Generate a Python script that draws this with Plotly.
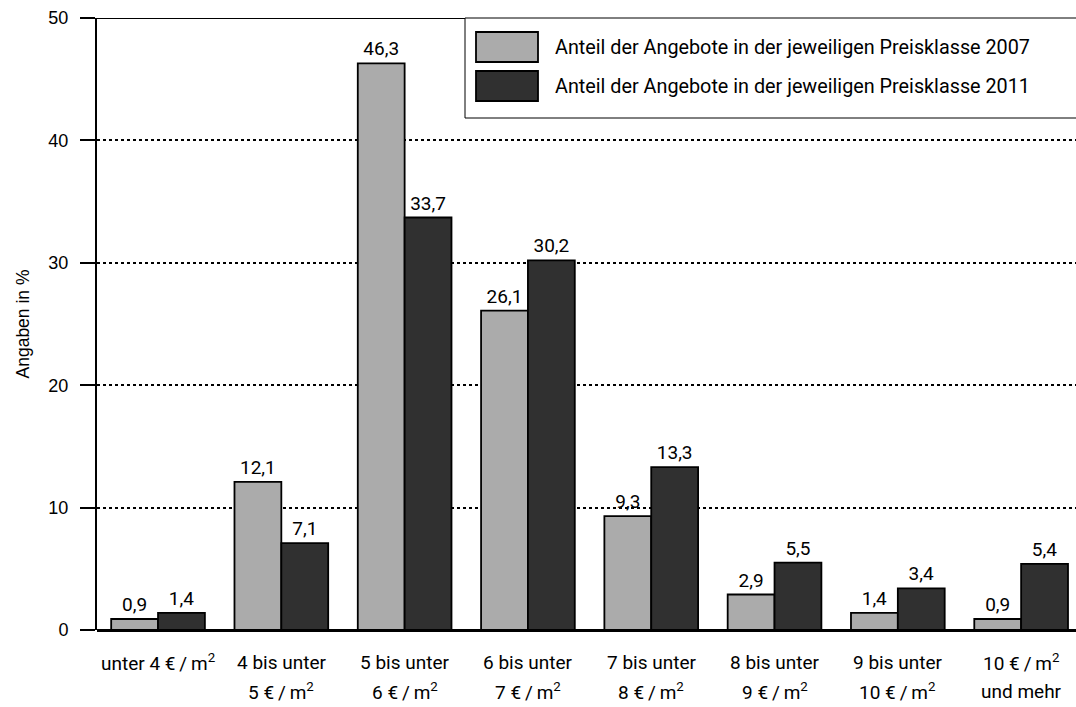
import plotly.graph_objects as go

# Price classes (net cold rent per m²), split into two label lines
class_line1 = ["unter 4 €\u2009/\u2009m<sup>2</sup>", "4 bis unter", "5 bis unter", "6 bis unter",
               "7 bis unter", "8 bis unter", "9 bis unter", "10 €\u2009/\u2009m<sup>2</sup>"]
class_line2 = ["", "5 €\u2009/\u2009m<sup>2</sup>", "6 €\u2009/\u2009m<sup>2</sup>", "7 €\u2009/\u2009m<sup>2</sup>",
               "8 €\u2009/\u2009m<sup>2</sup>", "9 €\u2009/\u2009m<sup>2</sup>", "10 €\u2009/\u2009m<sup>2</sup>", "und mehr"]

share_2007 = [0.9, 12.1, 46.3, 26.1, 9.3, 2.9, 1.4, 0.9]
share_2011 = [1.4, 7.1, 33.7, 30.2, 13.3, 5.5, 3.4, 5.4]

series_names = ["Anteil der Angebote in der jeweiligen Preisklasse 2007",
                "Anteil der Angebote in der jeweiligen Preisklasse 2011"]
series_colors = ["#ababab", "#303030"]

y_ticks = [0, 10, 20, 30, 40, 50]

LABEL_FONT = "Roboto"
AXIS_FONT = "Liberation Sans"

positions = list(range(len(class_line1)))


def de_fmt(v):
    return f"{v:.1f}".replace(".", ",")


fig = go.Figure()
for vals, name, color in zip([share_2007, share_2011], series_names, series_colors):
    fig.add_trace(go.Bar(
        x=positions, y=vals, name=name,
        marker=dict(color=color, line=dict(color="black", width=1.8)),
        text=[de_fmt(v) for v in vals], textposition="outside",
        constraintext="none",
        textfont=dict(family=LABEL_FONT, size=19, color="black"),
        cliponaxis=False, showlegend=False,
    ))

# Category labels below the axis, two lines each
for i, (a, b) in enumerate(zip(class_line1, class_line2)):
    fig.add_annotation(x=i, y=0, xref="x", yref="y", text=a, showarrow=False,
                       yanchor="middle", yshift=-32,
                       font=dict(family=LABEL_FONT, size=19, color="black"))
    if b:
        fig.add_annotation(x=i, y=0, xref="x", yref="y", text=b, showarrow=False,
                           yanchor="middle", yshift=-61,
                           font=dict(family=LABEL_FONT, size=19, color="black"))

# Solid top frame line at 50
fig.add_shape(type="line", xref="paper", yref="y", x0=0, x1=1, y0=50, y1=50,
              line=dict(color="black", width=2))

# Legend box with swatches
fig.add_shape(type="rect", xref="paper", yref="paper",
              x0=(465 - 97) / 979, x1=1.01, y0=(630 - 118) / 612, y1=1,
              line=dict(color="black", width=1), fillcolor="white", layer="above")
sw_rows = [(32, 62), (71, 101)]
for (top, bot), name, color in zip(sw_rows, series_names, series_colors):
    fig.add_shape(type="rect", xref="paper", yref="paper",
                  x0=(476 - 97) / 979, x1=(538 - 97) / 979,
                  y0=(630 - bot) / 612, y1=(630 - top) / 612,
                  line=dict(color="black", width=1.8), fillcolor=color, layer="above")
    fig.add_annotation(xref="paper", yref="paper", x=(553 - 97) / 979,
                       y=(630 - (top + bot) / 2) / 612, text=name, showarrow=False,
                       xanchor="left", yanchor="middle",
                       font=dict(family=LABEL_FONT, size=19.8, color="black"))

fig.update_layout(
    width=1076, height=707,
    margin=dict(l=97, r=0, t=18, b=77),
    paper_bgcolor="white", plot_bgcolor="white",
    barmode="group", bargap=0.24, bargroupgap=0,
    xaxis=dict(range=[-0.495, 7.445], showticklabels=False, showgrid=False,
               zeroline=False, showline=False, ticks=""),
    yaxis=dict(range=[0, 50], tickvals=y_ticks, ticks="outside", ticklen=15,
               tickwidth=2, tickcolor="black", showline=True, linecolor="black",
               linewidth=2, showgrid=True, gridcolor="black", griddash="dot",
               gridwidth=1.5, zeroline=True, zerolinecolor="black", zerolinewidth=2.5,
               ticklabelstandoff=8,
               tickfont=dict(family=AXIS_FONT, size=18, color="black"),
               title=dict(text="Angaben in %", standoff=14,
                          font=dict(family=AXIS_FONT, size=17.5, color="black"))),
)

fig.write_html("out.html")
